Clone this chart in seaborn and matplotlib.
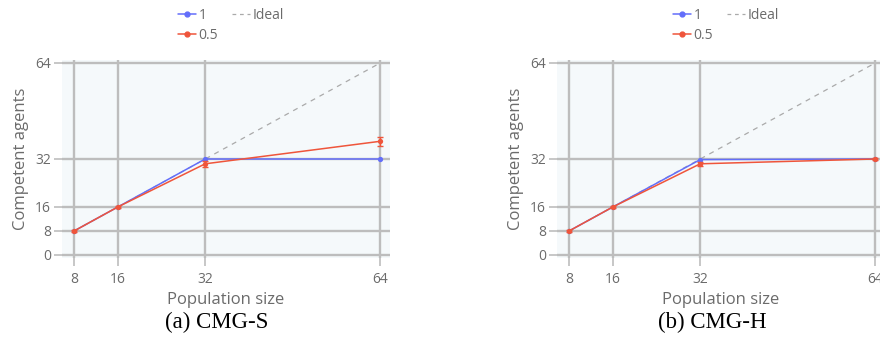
import matplotlib
matplotlib.use("Agg")
import matplotlib.pyplot as plt
from matplotlib.lines import Line2D
import seaborn as sns
import pandas as pd

sns.set_theme(style="white")
plt.rcParams["font.family"] = ["Open Sans", "DejaVu Sans"]

# Population sizes and mean competent agents per setting
pop_sizes = [8, 16, 32, 64]
tick_vals = [0, 8, 16, 32, 64]

cmg_s_rate1 = [8, 16, 32, 32]
cmg_s_rate05 = [8, 16, 30.4, 37.9]
cmg_s_rate05_err = [0.2, 0.3, 1.0, 1.5]

cmg_h_rate1 = [8, 16, 31.8, 32]
cmg_h_rate05 = [8, 16, 30.4, 32]
cmg_h_rate05_err = [0.2, 0.3, 0.7, 0.2]

captions = ["(a) CMG-S", "(b) CMG-H"]

BLUE = "#636efa"
RED = "#ef553b"
GRID = "#bdbdbd"
TXT = "#6b6b6b"
BG = "#f5f9fb"

W, H = 880, 350
fig = plt.figure(figsize=(W / 100, H / 100), dpi=100)

panels = [
    (62, cmg_s_rate1, cmg_s_rate05, cmg_s_rate05_err, captions[0], 217),
    (557, cmg_h_rate1, cmg_h_rate05, cmg_h_rate05_err, captions[1], 712),
]

for left_px, r1, r05, r05_err, cap, cap_x in panels:
    ax = fig.add_axes([left_px / W, 1 - 258 / H, 328 / W, 198 / H])
    ax.set_facecolor(BG)
    for s in ax.spines.values():
        s.set_visible(False)

    df = pd.DataFrame({
        "Population size": pop_sizes * 2,
        "Competent agents": r1 + r05,
        "rate": ["1"] * 4 + ["0.5"] * 4,
    })

    # ideal scaling reference
    ax.plot([8, 64], [8, 64], ls=(0, (4, 4)), color="#aaaaaa", lw=0.9,
            zorder=2, label="Ideal")

    sns.lineplot(data=df, x="Population size", y="Competent agents",
                 hue="rate", hue_order=["1", "0.5"], palette=[BLUE, RED],
                 marker="o", markersize=3.8, markeredgewidth=0, lw=1.1,
                 ax=ax, zorder=3, legend=False)
    ax.errorbar(pop_sizes, r05, yerr=r05_err, fmt="none", ecolor=RED,
                elinewidth=1.0, capsize=2.5, capthick=1.0, zorder=3)

    ax.set_xlim(5.8, 65.8)
    ax.set_ylim(-1.0, 65.0)
    ax.set_xticks(pop_sizes)
    ax.set_yticks(tick_vals)
    ax.grid(True, color=GRID, lw=1.7, zorder=0)
    ax.set_axisbelow(True)
    ax.tick_params(axis="both", colors=GRID, labelcolor=TXT, labelsize=10,
                   length=6, width=1.2, pad=2, direction="out")
    ax.tick_params(axis="x", bottom=True, pad=4)
    ax.tick_params(axis="y", left=True)
    ax.set_xlabel("Population size", color=TXT, fontsize=12, labelpad=4)
    ax.set_ylabel("Competent agents", color=TXT, fontsize=12, labelpad=4)

    # legend above the plot
    h1 = Line2D([], [], color=BLUE, marker="o", markersize=3.5, lw=1.1)
    h05 = Line2D([], [], color=RED, marker="o", markersize=3.5, lw=1.1)
    hid = Line2D([], [], color="#aaaaaa", ls=(0, (3, 3)), lw=0.9)
    leg = fig.legend([h1, h05, hid], ["1", "0.5", "Ideal"], ncol=2,
                     loc="upper left",
                     bbox_to_anchor=((left_px + 106) / W, 1 + 2 / H),
                     frameon=False, fontsize=10, handlelength=1.3,
                     handletextpad=0.2, columnspacing=1.0, labelspacing=0.35,
                     borderpad=0.2)
    for t in leg.get_texts():
        t.set_color(TXT)

    fig.text(cap_x / W, 1 - 322 / H, cap, ha="center", va="center",
             fontsize=16.5, family="Liberation Serif", color="black")

fig.savefig("out.png", dpi=100)
